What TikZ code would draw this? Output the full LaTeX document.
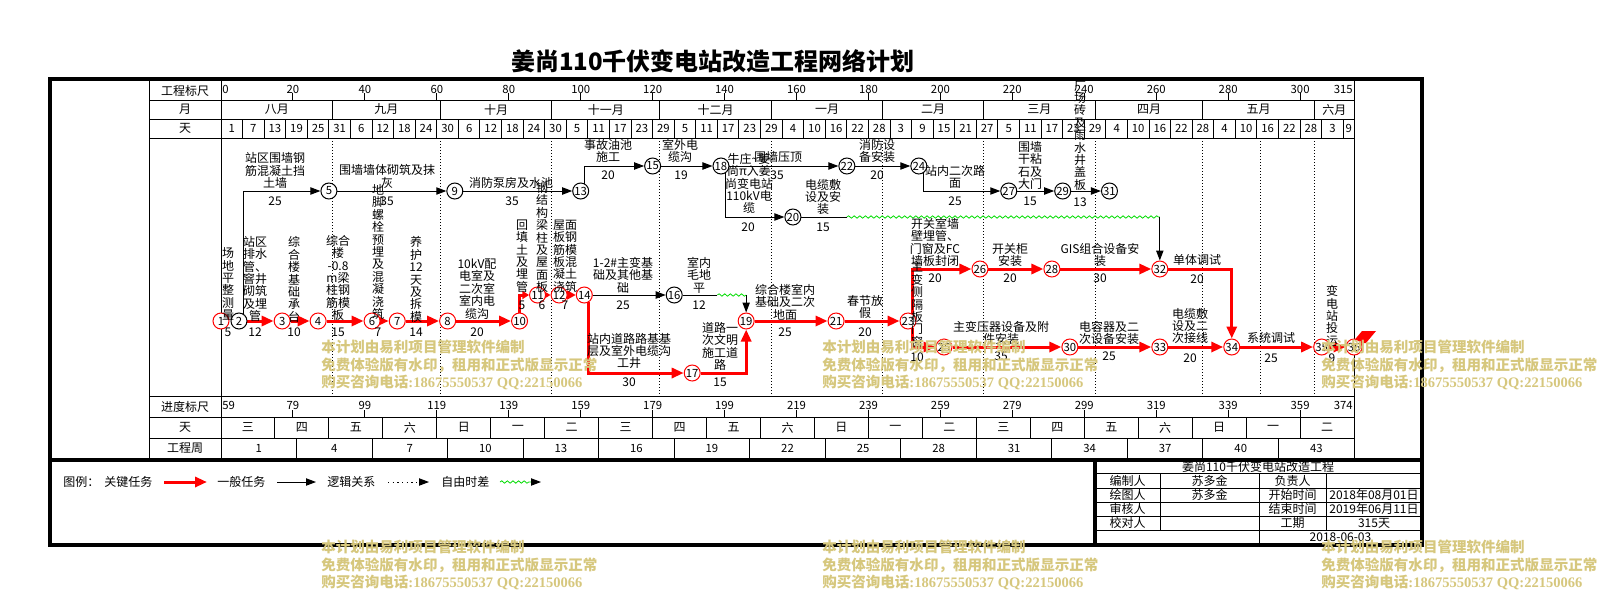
\documentclass[tikz,border=0pt]{standalone}
\usepackage{fontspec}
\newfontfamily\cjk{Noto Sans CJK SC}
\newfontfamily\wmlat{Liberation Serif}
\usetikzlibrary{arrows.meta,decorations.pathmorphing}
\pgfdeclarelayer{bg}
\pgfsetlayers{bg,main}
\definecolor{wmcol}{RGB}{214,199,125}
\definecolor{wavegreen}{RGB}{0,220,0}
\newcommand{\DX}[1]{(221+3.597*(#1))}
\tikzset{
  ev/.style={circle, draw=black, fill=white, line width=0.75pt, minimum size=12pt, inner sep=0pt, font=\cjk\fontsize{8.5}{8.5}\selectfont},
  evc/.style={ev, draw=red},
  crit/.style={draw=red, line width=2.25pt, -{Triangle[length=9pt,width=7.5pt]}},
  norm/.style={draw=black, line width=0.75pt, -{Triangle[length=7.5pt,width=5.5pt]}},
  plainline/.style={draw=black, line width=0.75pt},
  wavy/.style={draw=wavegreen, line width=0.6pt, decorate, decoration={snake, amplitude=0.9pt, segment length=4.2pt}},
  gridline/.style={draw=black, line width=0.75pt},
  frameline/.style={draw=black, line width=3pt},
  monthline/.style={draw=black, line width=0.75pt, dash pattern=on 0.75pt off 1.5pt},
  sc/.style={font=\cjk\fontsize{8.5}{8.5}\selectfont},
  wmk/.style={text=wmcol, anchor=west, align=left, font=\cjk\bfseries\fontsize{10.9}{13.2}\selectfont},
}
\begin{document}
\begin{tikzpicture}[x=0.75pt, y=-0.75pt, inner sep=0pt, font=\cjk\fontsize{9}{9.3}\selectfont, every node/.append style={align=center}]
\useasboundingbox (0,0) rectangle (1604,590);

% title
\node[font=\cjk\bfseries\fontsize{18}{18}\selectfont] (title) at (713,61) {姜尚110千伏变电站改造工程网络计划};

% frame and grid
\draw[frameline] (50,79) rectangle (1422,545);
\draw[frameline] (50,460) -- (1422,460);
\draw[frameline] (1095,460) -- (1095,545);
\draw[gridline] (149,79) -- (149,460);
\draw[gridline] (221,79) -- (221,460);
\draw[gridline] (1354,79) -- (1354,460);
\foreach \yy in {100,119,138,396,417,438} \draw[gridline] (149,\yy) -- (1354,\yy);

% row labels
\node (hl1) at (185,90.5) {工程标尺};
\node (hl2) at (185,109.5) {月};
\node (hl3) at (185,128.5) {天};
\node (hl4) at (185,406.5) {进度标尺};
\node (hl5) at (185,427.5) {天};
\node (hl6) at (185,448.5) {工程周};

% top scale
\node[sc, anchor=west] (s0) at (222,89) {0};
\node[sc, anchor=east] (s315) at (1353,89) {315};
\foreach \d in {20,40,...,300} {
  \draw[gridline] ({\DX{\d}},100) -- ({\DX{\d}},93);
  \node[sc] (s\d) at ({\DX{\d}},89) {\d};
}
% bottom scale
\node[sc, anchor=west] (b0) at (222,405) {59};
\node[sc, anchor=east] (b315) at (1353,405) {374};
\foreach \d [evaluate=\d as \v using {int(\d+59)}] in {20,40,...,300} {
  \draw[gridline] ({\DX{\d}},417) -- ({\DX{\d}},410);
  \node[sc] (b\d) at ({\DX{\d}},405) {\v};
}

% months
\foreach \d in {31,61,92,122,153,184,212,243,273,304} \draw[gridline] ({\DX{\d}},100) -- ({\DX{\d}},119);
\foreach \c/\t [count=\i] in {15.5/八月,46/九月,76.5/十月,107/十一月,137.5/十二月,168.5/一月,198/二月,227.5/三月,258/四月,288.5/五月,309.5/六月}
  \node (mo\i) at ({\DX{\c}},109.5) {\t};

% days
\foreach \k in {1,...,52} \draw[gridline] ({\DX{6*\k}},119) -- ({\DX{6*\k}},138);
\foreach \k/\lab in {0/1,1/7,2/13,3/19,4/25,5/31,6/6,7/12,8/18,9/24,10/30,11/6,12/12,13/18,14/24,15/30,16/5,17/11,18/17,19/23,20/29,21/5,22/11,23/17,24/23,25/29,26/4,27/10,28/16,29/22,30/28,31/3,32/9,33/15,34/21,35/27,36/5,37/11,38/17,39/23,40/29,41/4,42/10,43/16,44/22,45/28,46/4,47/10,48/16,49/22,50/28,51/3}
  \node[sc] (dy\k) at ({\DX{6*\k+3}},128.5) {\lab};
\node[sc] (dy52) at ({\DX{313.5}},128.5) {9};

% weekdays
\foreach \k in {1,...,20} \draw[gridline] ({\DX{15*\k}},417) -- ({\DX{15*\k}},438);
\foreach \k/\w in {0/三,1/四,2/五,3/六,4/日,5/一,6/二,7/三,8/四,9/五,10/六,11/日,12/一,13/二,14/三,15/四,16/五,17/六,18/日,19/一,20/二}
  \node (wd\k) at ({\DX{15*\k+7.5}},427.5) {\w};

% weeks
\foreach \k in {1,...,14} \draw[gridline] ({\DX{21*\k}},438) -- ({\DX{21*\k}},459);
\foreach \k [evaluate=\k as \wk using {int(1+3*\k)}] in {0,...,14}
  \node[sc] (wk\k) at ({\DX{21*\k+10.5}},448.5) {\wk};

% events
\node[evc] (n1) at ({\DX{0}},321) {1};
\node[ev]  (n2) at ({\DX{5}},321) {2};
\node[evc] (n3) at ({\DX{17}},321) {3};
\node[evc] (n4) at ({\DX{27}},321) {4};
\node[evc] (n6) at ({\DX{42}},321) {6};
\node[evc] (n7) at ({\DX{49}},321) {7};
\node[evc] (n8) at ({\DX{63}},321) {8};
\node[evc] (n10) at ({\DX{83}},321) {10};
\node[evc] (n11) at ({\DX{88}},295) {11};
\node[evc] (n12) at ({\DX{94}},295) {12};
\node[evc] (n14) at ({\DX{101}},295) {14};
\node[ev]  (n5) at ({\DX{30}},191) {5};
\node[ev]  (n9) at ({\DX{65}},191) {9};
\node[ev]  (n13) at ({\DX{100}},191) {13};
\node[ev]  (n15) at ({\DX{120}},166) {15};
\node[ev]  (n18) at ({\DX{139}},166) {18};
\node[ev]  (n22) at ({\DX{174}},166) {22};
\node[ev]  (n20) at ({\DX{159}},217) {20};
\node[ev]  (n16) at ({\DX{126}},295) {16};
\node[evc] (n17) at ({\DX{131}},373) {17};
\node[evc] (n19) at ({\DX{146}},321) {19};
\node[evc] (n21) at ({\DX{171}},321) {21};
\node[evc] (n23) at ({\DX{191}},321) {23};
\node[ev]  (n24) at ({\DX{194}},166) {24};
\node[ev]  (n27) at ({\DX{219}},191) {27};
\node[ev]  (n29) at ({\DX{234}},191) {29};
\node[ev]  (n31) at ({\DX{247}},191) {31};
\node[evc] (n26) at ({\DX{211}},269) {26};
\node[evc] (n28) at ({\DX{231}},269) {28};
\node[evc] (n32) at ({\DX{261}},269) {32};
\node[evc] (n25) at ({\DX{201}},347) {25};
\node[evc] (n30) at ({\DX{236}},347) {30};
\node[evc] (n33) at ({\DX{261}},347) {33};
\node[evc] (n34) at ({\DX{281}},347) {34};
\node[evc] (n35) at ({\DX{306}},347) {35};
\node[evc] (n36) at ({\DX{315}},347) {36};

\coordinate (f20) at ({\DX{174}},217);
\coordinate (g20) at (n32 |- f20);
\coordinate (f16) at ({\DX{138}},295);
\coordinate (g16) at (n19 |- f16);

\begin{pgfonlayer}{bg}
\foreach \d in {31,61,92,122,153,184,212,243,273,289,304} \draw[monthline] ({\DX{\d}},138) -- ({\DX{\d}},396);
% critical
\draw[crit] (n2) -- (n3);
\draw[crit] (n3) -- (n4);
\draw[crit] (n4) -- (n6);
\draw[crit] (n6) -- (n7);
\draw[crit] (n7) -- (n8);
\draw[crit] (n8) -- (n10);
\draw[crit, -{Triangle[length=5pt,width=6pt]}] (n10.north) |- (n11);
\draw[crit, -{Triangle[length=6pt,width=6.5pt]}] (n11) -- (n12);
\draw[crit, -{Triangle[length=6.5pt,width=6.5pt]}] (n12) -- (n14);
\draw[crit] (n14.-60) |- (n17);
\draw[crit] (n17) -| (n19);
\draw[crit] (n19) -- (n21);
\draw[crit] (n21) -- (n23);
\draw[crit] (n23.60) |- (n26);
\draw[crit] (n23.-60) |- (n25);
\draw[crit] (n26) -- (n28);
\draw[crit] (n28) -- (n32);
\draw[crit] (n25) -- (n30);
\draw[crit] (n30) -- (n33);
\draw[crit] (n33) -- (n34);
\draw[crit] (n32) -| (n34);
\draw[crit] (n34) -- (n35);
\draw[crit] (n35) -- (n36);
% normal
\draw[norm] (n2.60) |- (n5);
\draw[norm] (n5) -- (n9);
\draw[norm] (n9) -- (n13);
\draw[norm] (n13.60) |- (n15);
\draw[norm] (n15) -- (n18);
\draw[norm] (n18) -- (n22);
\draw[norm] (n18.-60) |- (n20);
\draw[plainline] (n20) -- (f20);
\draw[wavy] (f20) -- (g20);
\draw[norm] (g20) -- (n32);
\draw[norm] (n14) -- (n16);
\draw[plainline] (n16) -- (f16);
\draw[wavy] (f16) -- (g16);
\draw[norm] (g16) -- (n19);
\draw[norm] (n22) -- (n24);
\draw[norm] (n24.-60) |- (n27);
\draw[norm] (n27) -- (n29);
\draw[norm] (n29) -- (n31);
% finish flag
\fill[red] (1362,331) -- (1376,331) -- (1366,343) -- (1352,343) -- cycle;
\end{pgfonlayer}

% task labels
\node (t1) at (228,284) {场\\地\\平\\整\\测\\量};
\node (d1) at (228,332) {5};
\node (t2) at (255,279) {站区\\排水\\管、\\窨井\\砌筑\\及埋\\管};
\node (d2) at (255,332) {12};
\node (t3) at (294,279.5) {综\\合\\楼\\基\\础\\承\\台};
\node (d3) at (294,332) {10};
\node (t4) at (338,278) {综合\\楼\\-0.8\\m梁\\柱钢\\筋模\\板};
\node (d4) at (338,332) {15};
\node (t5) at (378,252) {地\\脚\\螺\\栓\\预\\埋\\及\\混\\凝\\浇\\筑};
\node (d5) at (378,332) {7};
\node (t6) at (416,279.5) {养\\护\\12\\天\\及\\拆\\模};
\node (d6) at (416,332) {14};
\node (t7) at (477,289) {10kV配\\电室及\\二次室\\室内电\\缆沟};
\node (d7) at (477,332) {20};
\node (t8) at (522,256) {回\\填\\土\\及\\埋\\管};
\node (d8) at (522,305) {5};
\node (t9) at (542,237.5) {钢\\结\\构\\梁\\柱\\及\\屋\\面\\板};
\node (d9) at (542,305) {6};
\node (t10) at (565,256) {屋面\\板钢\\筋模\\板混\\凝土\\浇筑};
\node (d10) at (565,305) {7};
\node (t11) at (511,183) {消防泵房及水池};
\node (d11) at (512,201) {35};
\node (t12) at (387,176.5) {围墙墙体砌筑及抹\\灰};
\node (d12) at (387,201) {35};
\node (t13) at (275,170.5) {站区围墙钢\\筋混凝土挡\\土墙};
\node (d13) at (275,201) {25};
\node (t14) at (608,151) {事故油池\\施工};
\node (d14) at (608,175) {20};
\node (t15) at (680,151) {室外电\\缆沟};
\node (d15) at (681,175) {19};
\node (t16) at (778,157) {围墙压顶};
\node (d16) at (777,175) {35};
\node (t17) at (749,183.5) {牛庄\textasciitilde 姜\\尚π入姜\\尚变电站\\110kV电\\缆};
\node (d17) at (748,227) {20};
\node (t18) at (823,197) {电缆敷\\设及安\\装};
\node (d18) at (823,227) {15};
\node (t19) at (877,151) {消防设\\备安装};
\node (d19) at (877,175) {20};
\node (t20) at (955,177) {站内二次路\\面};
\node (d20) at (955,201) {25};
\node (t21) at (1030,165.5) {围墙\\干粘\\石及\\大门};
\node (d21) at (1030,201) {15};
\node (t22) at (1080,135.5) {厂\\场\\砖\\及\\雨\\水\\井\\盖\\板};
\node (d22) at (1080,202) {13};
\node (t23) at (935,242.5) {开关室墙\\壁埋管、\\门窗及FC\\墙板封闭};
\node (d23) at (935,278) {20};
\node (t24) at (917,304.5) {主\\变\\侧\\隔\\板\\门\\窗};
\node (d24) at (917,357) {10};
\node (t25) at (1010,255) {开关柜\\安装};
\node (d25) at (1010,278) {20};
\node (t26) at (1100,255) {GIS组合设备安\\装};
\node (d26) at (1100,278) {30};
\node (t27) at (1001,333) {主变压器设备及附\\件安装};
\node (d27) at (1001,356) {35};
\node (t28) at (1109,333) {电容器及二\\次设备安装};
\node (d28) at (1109,356) {25};
\node (t29) at (1197,260) {单体调试};
\node (d29) at (1197,279) {20};
\node (t30) at (1190,326) {电缆敷\\设及二\\次接线};
\node (d30) at (1190,358) {20};
\node (t31) at (1271,338) {系统调试};
\node (d31) at (1271,358) {25};
\node (t32) at (1332,316) {变\\电\\站\\投\\运};
\node (d32) at (1332,358) {9};
\node (t33) at (623,275) {1-2\#主变基\\础及其他基\\础};
\node (d33) at (623,305) {25};
\node (t34) at (699,275) {室内\\毛地\\平};
\node (d34) at (699,305) {12};
\node (t35) at (629,351) {站内道路路基基\\层及室外电缆沟\\工井};
\node (d35) at (629,382) {30};
\node (t36) at (720,346.5) {道路一\\次文明\\施工道\\路};
\node (d36) at (720,382) {15};
\node (t37) at (785,302) {综合楼室内\\基础及二次\\地面};
\node (d37) at (785,332) {25};
\node (t38) at (865,307) {春节放\\假};
\node (d38) at (865,332) {20};

% legend
\node[anchor=west] (lg0) at (63,482) {图例：};
\node[anchor=west] (lg1) at (104,482) {关键任务};
\coordinate (la1) at (164,482); \coordinate (la2) at (207,482);
\draw[crit] (la1) -- (la2);
\node[anchor=west] (lg2) at (217,482) {一般任务};
\coordinate (lb1) at (277,482); \coordinate (lb2) at (316,482);
\draw[norm] (lb1) -- (lb2);
\node[anchor=west] (lg3) at (327,482) {逻辑关系};
\coordinate (lc1) at (388,482); \coordinate (lc2) at (419,482); \coordinate (lc3) at (429,482);
\draw[plainline, dash pattern=on 1pt off 2.5pt] (lc1) -- (lc2);
\draw[norm] (lc2) -- (lc3);
\node[anchor=west] (lg4) at (441,482) {自由时差};
\coordinate (ld1) at (500,482); \coordinate (ld2) at (531,482); \coordinate (ld3) at (541,482);
\draw[wavy] (ld1) -- (ld2);
\draw[norm] (ld2) -- (ld3);

% title block
\foreach \yy in {473,488,502,516,530} \draw[gridline] (1095,\yy) -- (1422,\yy);
\draw[gridline] (1160,473) -- (1160,530);
\draw[gridline] (1259,473) -- (1259,545);
\draw[gridline] (1326,473) -- (1326,530);
\node (tb0) at (1258,466.5) {姜尚110千伏变电站改造工程};
\node (tb1) at (1127.5,480.5) {编制人};
\node (tb2) at (1209.5,480.5) {苏多金};
\node (tb3) at (1292.5,480.5) {负责人};
\node (tb4) at (1127.5,495) {绘图人};
\node (tb5) at (1209.5,495) {苏多金};
\node (tb6) at (1292.5,495) {开始时间};
\node (tb7) at (1374,495) {2018年08月01日};
\node (tb8) at (1127.5,509) {审核人};
\node (tb9) at (1292.5,509) {结束时间};
\node (tb10) at (1374,509) {2019年06月11日};
\node (tb11) at (1127.5,523) {校对人};
\node (tb12) at (1292.5,523) {工期};
\node (tb13) at (1374,523) {315天};
\node (tb14) at (1340.5,537.5) {2018-06-03};

% watermarks
\foreach \wx/\wy [count=\i] in {321/365,822/365,1321/365,321/565,822/565,1321/565}
  \node[wmk] (wm\i) at (\wx,\wy) {本计划由易利项目管理软件编制\\免费体验版有水印，租用和正式版显示正常\\购买咨询电话{\wmlat\bfseries :18675550537 QQ:22150066}};
\end{tikzpicture}
\end{document}
